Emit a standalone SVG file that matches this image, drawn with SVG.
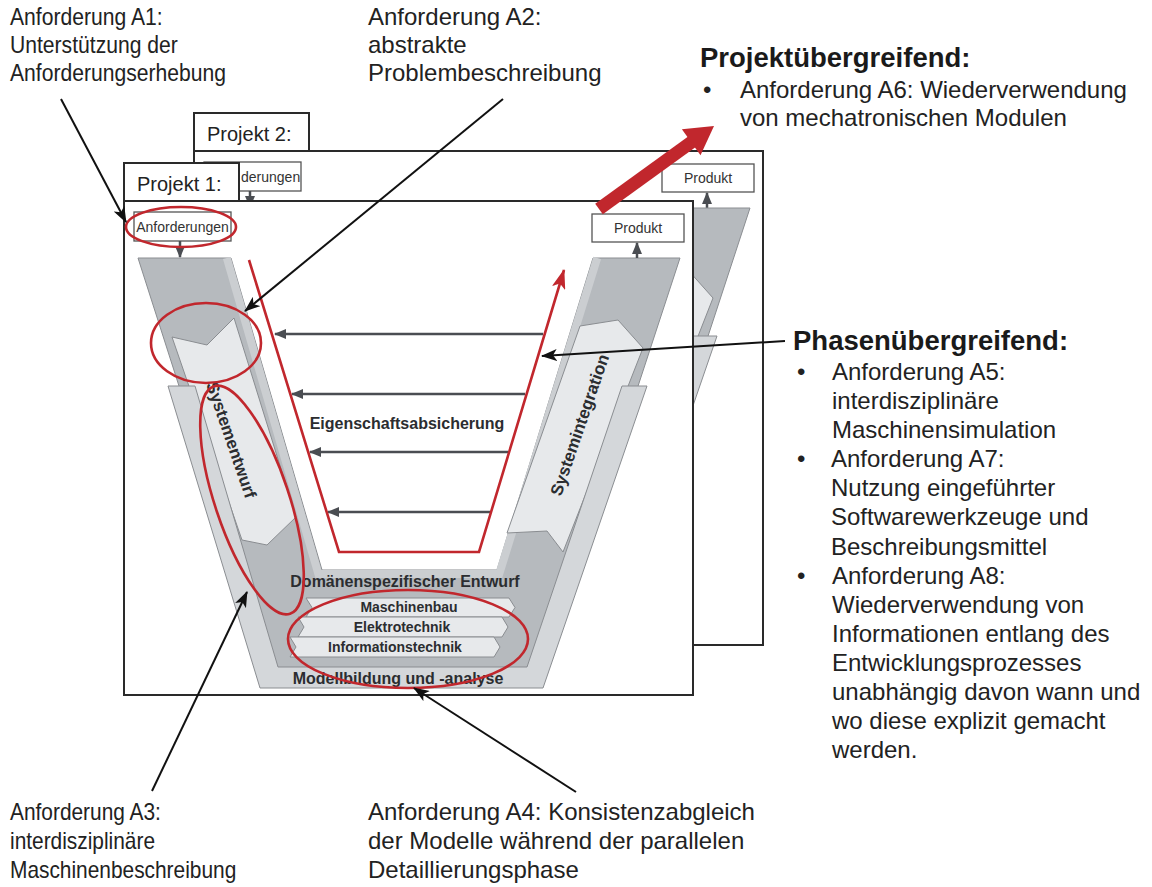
<svg xmlns="http://www.w3.org/2000/svg" width="1152" height="887" viewBox="0 0 1152 887">
<style>
.ann{font-family:"Liberation Sans",Arial,sans-serif;font-size:24px;fill:#222}
.hd{font-family:"Liberation Sans",Arial,sans-serif;font-size:27.5px;font-weight:bold;fill:#1a1a1a}
.lbl{font-family:"Liberation Sans",Arial,sans-serif;font-weight:bold;fill:#2b2d30}
.box{fill:#fff;stroke:#555;stroke-width:1.3}
.boxt{font-family:"Liberation Sans",Arial,sans-serif;font-size:14px;fill:#333;text-anchor:middle}
.tabt{font-family:"Liberation Sans",Arial,sans-serif;font-size:20px;fill:#222}
.frame{fill:#fff;stroke:#2a2a2a;stroke-width:2}
.dark{fill:#b6babe;stroke:#8a8d91;stroke-width:1}
.band{fill:#d4d7da;stroke:#8a8d91;stroke-width:1}
.lbox{fill:#e7e9eb;stroke:#8a8d91;stroke-width:1}
.red{fill:none;stroke:#c1272d;stroke-width:2.6}
.blk{stroke:#111;stroke-width:2;fill:none}
.gar{stroke:#4a4d52;stroke-width:2.5;fill:none}
</style>
<defs>
<marker id="mb" markerUnits="userSpaceOnUse" markerWidth="16" markerHeight="12" refX="15" refY="6" orient="auto"><path d="M0,0 L16,6 L0,12 L4,6 z" fill="#111"/></marker>
<marker id="mg" markerUnits="userSpaceOnUse" markerWidth="12" markerHeight="10" refX="11" refY="5" orient="auto"><path d="M0,0 L12,5 L0,10 z" fill="#4a4d52"/></marker>
<marker id="mr" markerUnits="userSpaceOnUse" markerWidth="20" markerHeight="14" refX="19" refY="7" orient="auto"><path d="M0,0 L20,7 L0,14 L5,7 z" fill="#c1272d"/></marker>
<g id="vshapes">
  <polygon class="dark" points="138,258 231,258 322,570 497,570 593,258 680,258 545,670 270,670"/>
  <path d="M226.8,258 L318.4,574 L499.2,574 L597.2,258" fill="none" stroke="#cbced1" stroke-width="8"/>
  <polygon class="lbox" points="172,337 207,345 234,318 296,517 267,545 242,540"/>
  <polygon class="lbox" points="580,326 618,320 643,348 563,552 547,531 507,533"/>
  <polygon class="band" points="168,386 195,386 278,667 527,667 622,386 647,386 543,688 260,688"/>
  <polygon class="lbox" points="306,598 509,598 515,607.5 509,617 306,617 312,607.5"/>
  <polygon class="lbox" points="298,617 502,617 508,627 502,637 298,637 304,627"/>
  <polygon class="lbox" points="290,637 494,637 500,647 494,657 290,657 296,647"/>
</g>
</defs>
<rect width="1152" height="887" fill="#fff"/>

<g id="project2">
  <g transform="translate(70,-50)">
    <rect class="frame" x="124" y="201" width="569" height="494"/>
    <rect class="frame" x="124" y="163" width="115" height="38"/>
    <rect class="box" x="134" y="212" width="97" height="29"/>
    <line class="gar" x1="180" y1="241" x2="180" y2="257" stroke-width="2" marker-end="url(#mg)"/>
    <rect class="box" x="592" y="214" width="92" height="28"/>
    <text class="boxt" x="638" y="233">Produkt</text>
    <line class="gar" x1="637" y1="258" x2="637" y2="243" stroke-width="2" marker-end="url(#mg)"/>
    <use href="#vshapes"/>
  </g>
  <text class="tabt" x="207" y="141">Projekt 2:</text>
</g>

<g id="project1">
  <rect class="frame" x="124" y="201" width="569" height="494"/>
  <rect class="frame" x="124" y="163" width="115" height="38"/>
  <text class="tabt" x="137" y="191">Projekt 1:</text>
  <g id="anforderungen1">
    <rect class="box" x="134" y="212" width="97" height="29"/>
    <text class="boxt" x="182.5" y="232">Anforderungen</text>
  </g>
  <g id="produkt1">
    <rect class="box" x="592" y="214" width="92" height="28"/>
    <text class="boxt" x="638" y="233">Produkt</text>
  </g>
  <use href="#vshapes"/>
  <text class="lbl" font-size="17" text-anchor="middle" dominant-baseline="central" transform="translate(231,440) rotate(71)">Systementwurf</text>
  <text class="lbl" font-size="17" text-anchor="middle" dominant-baseline="central" transform="translate(580,425) rotate(-71)">Systemintegration</text>
  <text class="lbl" font-size="16" x="405" y="587" text-anchor="middle">Domänenspezifischer Entwurf</text>
  <text class="lbl" font-size="14" x="409" y="612" text-anchor="middle">Maschinenbau</text>
  <text class="lbl" font-size="14" x="402" y="632" text-anchor="middle">Elektrotechnik</text>
  <text class="lbl" font-size="14" x="395" y="652" text-anchor="middle">Informationstechnik</text>
  <text class="lbl" font-size="16" x="398" y="684" text-anchor="middle">Modellbildung und -analyse</text>
  <text class="lbl" font-size="16" x="407" y="429" text-anchor="middle">Eigenschaftsabsicherung</text>
</g>
<text id="anforderungen2" class="boxt" x="241" y="182" text-anchor="start" style="text-anchor:start">derungen</text>

<g id="connectors">
  <line class="gar" x1="180" y1="241" x2="180" y2="257" stroke-width="2" marker-end="url(#mg)"/>
  <line class="gar" x1="637" y1="258" x2="637" y2="243" stroke-width="2" marker-end="url(#mg)"/>
  <line class="gar" x1="543" y1="334" x2="275" y2="334" marker-end="url(#mg)"/>
  <line class="gar" x1="525" y1="394" x2="292" y2="394" marker-end="url(#mg)"/>
  <line class="gar" x1="508" y1="452" x2="310" y2="452" marker-end="url(#mg)"/>
  <line class="gar" x1="490" y1="512" x2="328" y2="512" marker-end="url(#mg)"/>
  <polyline class="red" stroke-width="3.5" points="249,260 339,552 479,552 564,270" marker-end="url(#mr)"/>
  <line x1="599" y1="209" x2="693" y2="141" stroke="#c1272d" stroke-width="13"/>
  <polygon points="714,126 700.5,155.3 681.9,129.3" fill="#c1272d"/>
  <ellipse class="red" cx="181" cy="227" rx="55" ry="20"/>
  <ellipse class="red" cx="206" cy="343" rx="55" ry="40"/>
  <ellipse class="red" cx="252" cy="500" rx="120" ry="37" transform="rotate(71.5 252 500)"/>
  <ellipse class="red" cx="408" cy="639" rx="120" ry="49"/>
  <line class="blk" x1="61" y1="99" x2="126" y2="222" marker-end="url(#mb)"/>
  <line class="blk" x1="503" y1="99" x2="245" y2="311" marker-end="url(#mb)"/>
  <line class="blk" x1="785" y1="341" x2="542" y2="356" marker-end="url(#mb)"/>
  <line class="blk" x1="152" y1="791" x2="247" y2="592" marker-end="url(#mb)"/>
  <line class="blk" x1="576" y1="792" x2="414" y2="688" marker-end="url(#mb)"/>
</g>

<g id="label-a1" transform="translate(10,0) scale(0.88,1)">
  <text class="ann" x="0" y="25">Anforderung A1:</text>
  <text class="ann" x="0" y="53">Unterstützung der</text>
  <text class="ann" x="0" y="81">Anforderungserhebung</text>
</g>
<g id="label-a2">
  <text class="ann" x="368" y="25">Anforderung A2:</text>
  <text class="ann" x="368" y="53">abstrakte</text>
  <text class="ann" x="368" y="81">Problembeschreibung</text>
</g>
<g id="label-projekt">
  <text class="hd" x="700" y="67">Projektübergreifend:</text>
  <text class="ann" x="703" y="98">•</text>
  <text class="ann" x="740" y="98">Anforderung A6: Wiederverwendung</text>
  <text class="ann" x="740" y="126">von mechatronischen Modulen</text>
</g>
<g id="label-phasen">
  <text class="hd" x="793" y="350">Phasenübergreifend:</text>
  <text class="ann" x="797" y="380">•</text>
  <text class="ann" x="832" y="380">Anforderung A5:</text>
  <text class="ann" x="832" y="409">interdisziplinäre</text>
  <text class="ann" x="832" y="438">Maschinensimulation</text>
  <text class="ann" x="797" y="467">•</text>
  <text class="ann" x="831" y="467">Anforderung A7:</text>
  <text class="ann" x="831" y="496">Nutzung eingeführter</text>
  <text class="ann" x="831" y="525">Softwarewerkzeuge und</text>
  <text class="ann" x="831" y="555">Beschreibungsmittel</text>
  <text class="ann" x="797" y="584">•</text>
  <text class="ann" x="832" y="584">Anforderung A8:</text>
  <text class="ann" x="832" y="613">Wiederverwendung von</text>
  <text class="ann" x="832" y="642">Informationen entlang des</text>
  <text class="ann" x="832" y="671">Entwicklungsprozesses</text>
  <text class="ann" x="832" y="700">unabhängig davon wann und</text>
  <text class="ann" x="832" y="729">wo diese explizit gemacht</text>
  <text class="ann" x="832" y="758">werden.</text>
</g>
<g id="label-a3" transform="translate(10,0) scale(0.87,1)">
  <text class="ann" x="0" y="820">Anforderung A3:</text>
  <text class="ann" x="0" y="849">interdisziplinäre</text>
  <text class="ann" x="0" y="878">Maschinenbeschreibung</text>
</g>
<g id="label-a4">
  <text class="ann" x="368" y="820">Anforderung A4: Konsistenzabgleich</text>
  <text class="ann" x="368" y="849">der Modelle während der parallelen</text>
  <text class="ann" x="368" y="878">Detaillierungsphase</text>
</g>
</svg>
